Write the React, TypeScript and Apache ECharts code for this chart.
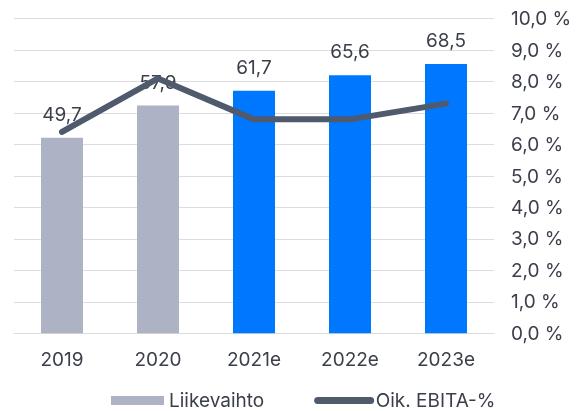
import React, { useEffect, useRef } from "react";
import * as echarts from "echarts";

const categories = ["2019", "2020", "2021e", "2022e", "2023e"];
const revenue = [49.7, 57.9, 61.7, 65.6, 68.5];
const ebitaPct = [6.4, 8.1, 6.8, 6.8, 7.3];
const estimateFlags = [false, false, true, true, true];
const pctTicks = { min: 0, max: 10, interval: 1 };

const GRAY = "#adb2c4";
const BLUE = "#0077ff";
const LINE = "#505a6d";
const TEXT = "#3a3f4a";
const FONT = "Inter";
const FS = 19;

const fmt1 = (v: number) => v.toFixed(1).replace(".", ",");

export default function App() {
  const ref = useRef<HTMLDivElement>(null);
  useEffect(() => {
    if (!ref.current) return;
    const chart = echarts.init(ref.current, null, { renderer: "svg" });
    chart.setOption({
      animation: false,
      textStyle: { fontFamily: FONT, color: TEXT },
      grid: { left: 14, right: 82, top: 18.7, bottom: 77.7, containLabel: false },
      legend: {
        left: 106,
        top: 386,
        itemWidth: 53,
        itemHeight: 9,
        itemGap: 50,
        textStyle: { fontFamily: FONT, fontSize: FS, color: TEXT },
        data: [
          { name: "Liikevaihto", icon: "rect" },
          {
            name: "Oik. EBITA-%",
            itemStyle: { opacity: 0 },
            lineStyle: { width: 7, cap: "round", color: LINE },
          },
        ],
      },
      xAxis: {
        type: "category",
        data: categories,
        axisLine: { show: true, lineStyle: { color: "#dcdcdc", width: 1 } },
        axisTick: { show: false },
        axisLabel: { color: TEXT, fontSize: FS, margin: 17, fontFamily: FONT },
      },
      yAxis: [
        { type: "value", min: 0, max: 80, show: false, splitLine: { show: false } },
        {
          type: "value",
          position: "right",
          min: pctTicks.min,
          max: pctTicks.max,
          interval: pctTicks.interval,
          axisLine: { show: false },
          axisTick: { show: false },
          axisLabel: {
            color: TEXT,
            fontSize: FS,
            margin: 17,
            fontFamily: FONT,
            formatter: (v: number) => fmt1(v) + " %",
          },
          splitLine: { show: true, lineStyle: { color: "#dcdcdc", width: 1 } },
        },
      ],
      series: [
        {
          name: "Liikevaihto",
          type: "bar",
          yAxisIndex: 0,
          barWidth: 42,
          itemStyle: { color: GRAY },
          data: revenue.map((v, i) => ({
            value: v,
            itemStyle: { color: estimateFlags[i] ? BLUE : GRAY },
          })),
          label: {
            show: true,
            position: "top",
            distance: 14,
            fontSize: FS,
            color: TEXT,
            fontFamily: FONT,
            formatter: (p: any) => fmt1(p.value),
          },
          z: 2,
        },
        {
          name: "Oik. EBITA-%",
          type: "line",
          yAxisIndex: 1,
          data: ebitaPct,
          symbol: "none",
          showSymbol: false,
          lineStyle: { color: LINE, width: 6, cap: "round", join: "round" },
          itemStyle: { color: LINE },
          z: 3,
        },
      ],
    });
    return () => chart.dispose();
  }, []);
  return (
    <div
      ref={ref}
      style={{ position: "fixed", left: 0, top: 0, width: 576, height: 411 }}
    />
  );
}
